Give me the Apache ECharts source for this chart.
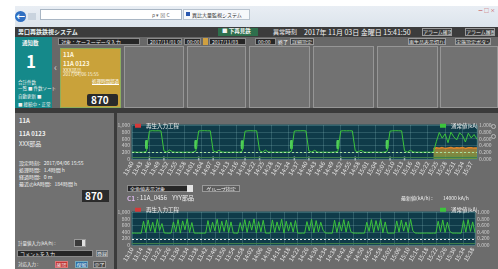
<!DOCTYPE html>
<html>
<head>
<meta charset="utf-8">
<script src="https://cdn.jsdelivr.net/npm/echarts@6/dist/echarts.min.js"></script>
<style>
  body { margin: 0; width: 498px; height: 269px; overflow: hidden; background: #fff; position: relative;
         font-family: "Noto Sans CJK JP", "Noto Sans", sans-serif; }
  .b { position: absolute; }
  .t { position: absolute; white-space: nowrap; line-height: 1; color: #f2f2f2; font-size: 6px; }
  .inp { position: absolute; background: #262626; border: 1px solid #8a8a8a; box-sizing: border-box;
         color: #eee; font-size: 5px; line-height: 6px; padding-left: 2px; white-space: nowrap; overflow: hidden; }
  .btn { position: absolute; background: #3a3a3a; border: 1px solid #9a9a9a; box-sizing: border-box;
         color: #f0f0f0; font-size: 5px; line-height: 6px; text-align: center; white-space: nowrap; overflow: hidden; }
  .card { position: absolute; top: 46px; height: 62px; background: #727272; border: 1px solid #969696; box-sizing: border-box; }
  #chart { position: absolute; left: 117px; top: 113px; width: 381px; height: 156px; }
</style>
</head>
<body>
<!-- browser chrome -->
<div class="b" style="left:15px;top:6px;width:483px;height:21px;background:linear-gradient(#e9eef4,#dce4ec);"></div>
<div class="b" style="left:15px;top:11px;width:11px;height:11px;border-radius:50%;background:#2f6fc2;"></div>
<div class="t" style="left:16px;top:12px;font-size:9px;color:#fff;font-weight:bold;">←</div>
<div class="b" style="left:28px;top:13px;width:8px;height:7px;background:#c9d3de;"></div>
<div class="b" style="left:40px;top:9px;width:142px;height:11px;background:#fff;border:1px solid #a9b6c4;box-sizing:border-box;"></div>
<div class="t" style="left:152px;top:12px;font-size:5px;color:#666;">ρ ▾ ⊠ C</div>
<div class="b" style="left:183px;top:9px;width:67px;height:11px;background:#f6f8fb;border:1px solid #b8c3cf;box-sizing:border-box;"></div>
<div class="b" style="left:186px;top:12px;width:4px;height:4px;background:#2a58b0;"></div>
<div class="t" style="left:192px;top:12px;font-size:5px;color:#333;">異比大量監視システム</div>
<div class="t" style="left:478px;top:7px;font-size:5px;color:#c04040;">ー □ ×</div>

<!-- app title bar -->
<div class="b" style="left:15px;top:27px;width:483px;height:10px;background:#3c3c3c;"></div>
<div class="t" style="left:18px;top:29px;font-size:6px;font-weight:bold;color:#e8f4f4;">男口再鉄鉄視システム</div>
<div class="b" style="left:218px;top:28px;width:40px;height:8px;background:#2e6f4c;"></div>
<div class="t" style="left:222px;top:29px;font-size:5.5px;font-weight:bold;">■ 下再見鉄</div>
<div class="t" style="left:273px;top:29px;font-size:6px;">異常時刻</div>
<div class="t" style="left:304px;top:28.5px;font-size:7px;">2017年 11月 03日 金曜日 15:41:50</div>
<div class="btn" style="left:422px;top:28px;width:30px;height:8px;">アラーム確認</div>
<div class="btn" style="left:465px;top:28px;width:30px;height:8px;">アラーム履歴</div>

<!-- toolbar + cards background -->
<div class="b" style="left:15px;top:37px;width:483px;height:71px;background:#686868;"></div>
<div class="inp" style="left:58px;top:38px;width:82px;height:7px;">対象：ケースーデータ入力</div>
<div class="inp" style="left:147px;top:38px;width:35px;height:7px;">2017/11/01 00:</div>
<div class="inp" style="left:184px;top:38px;width:17px;height:7px;">00:00</div>
<div class="b" style="left:203px;top:38px;width:5px;height:7px;background:#d0a040;"></div>
<div class="inp" style="left:209px;top:38px;width:37px;height:7px;">2017/11/03</div>
<div class="inp" style="left:255px;top:38px;width:21px;height:7px;">00:00</div>
<div class="t" style="left:278px;top:39px;font-size:5px;">終了</div>
<div class="btn" style="left:290px;top:38px;width:24px;height:7px;">詳細設定</div>
<div class="btn" style="left:408px;top:38px;width:38px;height:7px;">再生品表示切り替え</div>
<div class="btn" style="left:455px;top:38px;width:36px;height:7px;">実施設定ボタン</div>

<!-- notification panel -->
<div class="b" style="left:15px;top:37px;width:37px;height:71px;background:#15898a;"></div>
<div class="t" style="left:22px;top:41px;font-size:5.5px;font-weight:bold;">通知数</div>
<div class="t" style="left:26px;top:52px;font-size:17px;font-weight:bold;color:#fff;">1</div>
<div class="t" style="left:18px;top:80px;font-size:4.5px;">合計件数</div>
<div class="t" style="left:18px;top:86px;font-size:4.5px;">一覧 ■ 件数ソート</div>
<div class="t" style="left:18px;top:94px;font-size:4.5px;">自動更新 ■</div>
<div class="t" style="left:18px;top:102px;font-size:4.5px;">■ 接続中・正常</div>
<div class="t" style="left:54px;top:62px;font-size:10px;color:#d0d0d0;">‹</div>

<!-- cards -->
<div class="card" style="left:60px;width:61px;top:48px;height:60px;background:#c9a23a;border-color:#8fae5c;"></div>
<div class="t" style="left:63px;top:52px;font-size:6px;font-weight:bold;color:#fff8e0;">11A</div>
<div class="t" style="left:63px;top:61px;font-size:6px;font-weight:bold;color:#fff8e0;">11A 0123</div>
<div class="t" style="left:63px;top:67px;font-size:5px;color:#fff8e0;">XXX部品</div>
<div class="t" style="left:63px;top:72px;font-size:4.5px;color:#fff8e0;">2017/04/06 15:55</div>
<div class="t" style="left:92px;top:79px;font-size:4.5px;color:#fff;text-decoration:underline;">処理時間超過</div>
<div class="b" style="left:87px;top:94px;width:31px;height:12px;background:#2a2a2a;border-radius:2px;"></div>
<div class="t" style="left:91px;top:95px;font-size:10px;font-weight:bold;color:#fff;">870</div>
<div class="card" style="left:124px;width:60px;"></div>
<div class="card" style="left:187px;width:59px;"></div>
<div class="card" style="left:249px;width:61px;"></div>
<div class="card" style="left:313px;width:61px;"></div>
<div class="card" style="left:377px;width:61px;"></div>
<div class="card" style="left:440px;width:58px;"></div>
<div class="b" style="left:15px;top:108px;width:483px;height:5px;background:#3a3a3a;"></div>

<!-- left info panel -->
<div class="b" style="left:15px;top:113px;width:99px;height:156px;background:#717171;"></div>
<div class="b" style="left:114px;top:113px;width:3px;height:156px;background:#3b3b3b;"></div>
<div class="t" style="left:19px;top:118px;font-size:6px;font-weight:bold;">11A</div>
<div class="t" style="left:19px;top:131px;font-size:6px;font-weight:bold;">11A 0123</div>
<div class="t" style="left:19px;top:141px;font-size:6px;">XXX部品</div>
<div class="t" style="left:19px;top:160px;font-size:5px;">設定時刻:&nbsp;&nbsp;&nbsp;2017/04/06 15:55</div>
<div class="t" style="left:19px;top:167px;font-size:5px;">処理時間:&nbsp;&nbsp;&nbsp;1.4時間 h</div>
<div class="t" style="left:19px;top:174px;font-size:5px;">経過時間:&nbsp;&nbsp;&nbsp;0 m</div>
<div class="t" style="left:19px;top:181px;font-size:5px;">最近のkA時間:&nbsp;&nbsp;&nbsp;184時間 h</div>
<div class="b" style="left:82px;top:190px;width:27px;height:12px;background:#2b2b2b;"></div>
<div class="t" style="left:85px;top:191px;font-size:10px;font-weight:bold;color:#fff;">870</div>
<div class="t" style="left:18px;top:241px;font-size:4.5px;">計量値入力(kA/h) :</div>
<div class="b" style="left:74px;top:239px;width:12px;height:8px;background:#3a3a3a;border:1px solid #999;box-sizing:border-box;"></div>
<div class="b" style="left:82px;top:240px;width:3px;height:6px;background:#e0e0e0;"></div>
<div class="inp" style="left:17px;top:250px;width:76px;height:7px;">コメントを入力</div>
<div class="btn" style="left:96px;top:250px;width:12px;height:7px;background:#55606a;">登録</div>
<div class="t" style="left:18px;top:262px;font-size:4.5px;">対応入力 :</div>
<div class="btn" style="left:55px;top:261px;width:13px;height:7px;background:#c23434;border-color:#d77;">確認</div>
<div class="btn" style="left:75px;top:261px;width:13px;height:7px;background:#2c6fa8;border-color:#7ab;">保留</div>
<div class="btn" style="left:93px;top:261px;width:13px;height:7px;background:#4a4a4a;">完了</div>

<!-- chart area -->
<div id="chart"></div>
<div class="b" style="left:491px;top:124px;width:5px;height:5px;border-radius:50%;border:1px solid #bbb;box-sizing:border-box;"></div>
<div class="b" style="left:491px;top:134px;width:5px;height:5px;border-radius:50%;border:1px solid #bbb;box-sizing:border-box;"></div>
<div class="inp" style="left:127px;top:185px;width:66px;height:7px;">全角値表示対象</div>
<div class="b" style="left:187px;top:185px;width:6px;height:7px;background:#e4e4e4;"></div>
<div class="btn" style="left:202px;top:185px;width:38px;height:7px;background:#5c5c5c;">グループ指定</div>
<div class="t" style="left:127px;top:195px;font-size:6.5px;font-weight:bold;color:#dcb8ec;">C1</div>
<div class="t" style="left:137px;top:195px;font-size:6px;">: 11A_0456&nbsp;&nbsp;&nbsp;&nbsp;YYY部品</div>
<div class="t" style="left:401px;top:195px;font-size:5px;">最新値(kA/h) :</div>
<div class="t" style="left:443px;top:195px;font-size:5px;">14000 kA/h</div>

<script>
// top chart: one sample per minute
const TOP_VALUES = [200, 203, 198, 201, 199, 230,
  820, 832, 828, 830, 826,
  240, 205, 265, 210, 198, 202, 200, 197, 203, 199, 201, 235,
  825, 830, 833, 828, 830,
  235, 204, 258, 206, 199, 201, 197, 203, 200, 198, 228,
  818, 829, 831, 827, 830,
  245, 203, 262, 207, 200, 198, 202, 199, 201, 203, 197, 232,
  822, 830, 829, 832, 826,
  238, 205, 255, 204, 199, 202, 200, 197, 201, 203, 226,
  824, 831, 828, 830, 827,
  242, 206, 260, 203, 198, 201, 199, 203, 200, 197, 202, 230,
  820, 829, 832, 830, 828,
  240, 204, 257, 205, 199, 201, 198, 203, 200, 199, 202,
  520, 780, 610, 740, 480, 790, 650, 560, 770, 690, 500, 760, 620, 720, 580];
const TOP_SPIKES = [[5, 430], [22, 430], [38, 420], [55, 430], [71, 425], [88, 430]];
const TOP_EDGES = [[6, 15], [11, 15], [23, 15], [28, 15], [39, 15], [44, 15],
  [56, 15], [61, 15], [72, 15], [77, 15], [89, 15], [94, 15]];
const TOP_REGEN = [[104, 300], [105, 330], [106, 318], [107, 335], [108, 312], [109, 326],
  [110, 340], [111, 316], [112, 330], [113, 322], [114, 336], [115, 312], [116, 328],
  [117, 334], [118, 320], [119, 326]];
const TOP_REFERENCE = 185;
const TOP_FLOOR = 40;

// lower chart
const LOW_VALUES = [360, 362, 358, 361, 359,
  720, 380, 760, 420, 690, 370, 780, 440, 650, 365,
  360, 358, 362,
  700, 400, 770, 360, 730, 460, 790, 380, 680, 362,
  359, 361, 360, 358, 362,
  740, 390, 690, 430, 780, 370, 720, 410, 760, 380, 700, 364,
  360, 359,
  680, 420, 770, 380, 730, 450, 790, 370, 710, 400, 750, 361,
  360, 362,
  760, 380, 700, 440, 780, 360, 720, 420, 690, 390, 740, 360,
  359, 361, 358,
  710, 430, 780, 370, 740, 400, 690, 450, 363,
  360, 361, 359,
  750, 380, 700, 420, 770, 390, 720, 410, 362,
  360, 358, 361, 359, 360,
  690, 410, 770, 380, 740, 440, 790, 370, 700, 361,
  359, 362, 360,
  730, 390, 760, 420, 700, 380, 780, 430, 363,
  360, 358, 361, 359, 362, 360, 358, 361, 359,
  720, 400, 760, 380, 690, 420, 362,
  360, 361, 359, 360,
  740, 390, 770, 410, 700, 380];
const LOW_REFERENCE = 180;

const LEFT_AXIS = { min: 0, max: 1000, interval: 200 };
const RIGHT_AXIS = { min: 0, max: 1, interval: 0.2 };

function timeLabels(startMin, count) {
  const out = [];
  for (let i = 0; i < count; i++) {
    const m = startMin + i;
    out.push(String(Math.floor(m / 60) % 24).padStart(2, "0") + ":" + String(m % 60).padStart(2, "0"));
  }
  return out;
}
const TOP_TIMES = timeLabels(13 * 60 + 40, TOP_VALUES.length);
const LOW_TIMES = timeLabels(13 * 60 + 10, LOW_VALUES.length);

const GREEN = "#3cc43c";
const gridLine = { lineStyle: { color: "rgba(150,200,200,0.22)", width: 1 } };

function xAxisFor(gridIndex, data, labelEvery) {
  return {
    type: "category", gridIndex, data, boundaryGap: false,
    axisLine: { show: false }, axisTick: { show: false },
    axisLabel: {
      show: true, interval: 0, rotate: 60, hideOverlap: false,
      fontSize: 6, color: "#e6e6e6", margin: 3,
      formatter: (v, i) => (i % labelEvery === 0 ? v : "")
    },
    splitLine: { show: true, interval: 5, ...gridLine }
  };
}
function yAxesFor(gridIndex) {
  return [
    { type: "value", gridIndex, ...LEFT_AXIS, position: "left",
      axisLabel: { fontSize: 5, color: "#d0d0d0", margin: 2, formatter: v => v.toLocaleString("en-US") },
      axisLine: { show: false }, axisTick: { show: false }, splitLine: { show: true, ...gridLine } },
    { type: "value", gridIndex, ...RIGHT_AXIS, position: "right",
      axisLabel: { fontSize: 5, color: "#d0d0d0", margin: 2, formatter: v => v.toFixed(3) },
      axisLine: { show: false }, axisTick: { show: false }, splitLine: { show: false } }
  ];
}
function legendsAt(top) {
  const text = { fontSize: 5.5, color: "#eeeeee" };
  return [
    { left: 13, top, itemWidth: 6, itemHeight: 4, itemGap: 4, textStyle: text, selectedMode: false,
      data: [{ name: "再生入力工程", icon: "rect", itemStyle: { color: "#d33a3a" } }] },
    { left: 318, top, itemWidth: 6, itemHeight: 4, textStyle: text, selectedMode: false,
      data: [{ name: "通常値(kA)", icon: "rect", itemStyle: { color: GREEN } }] }
  ];
}
function refLines(ref, refColor, floor) {
  return {
    silent: true, symbol: "none", label: { show: false },
    data: [
      { yAxis: ref, lineStyle: { color: refColor, type: [2, 2], width: 1.2 } },
      { yAxis: floor, lineStyle: { color: "#3f7f4c", type: "solid", width: 1 } }
    ]
  };
}

const chart = echarts.init(document.getElementById("chart"));
chart.setOption({
  animation: false,
  backgroundColor: "#6c6c6c",
  textStyle: { fontFamily: "Noto Sans CJK JP" },
  grid: [
    { left: 15, width: 345, top: 12, height: 34, show: true, backgroundColor: "#0f3b49", borderColor: "#1f5560", borderWidth: 1,
      outerBoundsMode: "none" },
    { left: 15, width: 343, top: 99, height: 33, show: true, backgroundColor: "#0f3b49", borderColor: "#1f5560", borderWidth: 1,
      outerBoundsMode: "none" }
  ],
  legend: legendsAt(5).concat(legendsAt(89)),
  xAxis: [xAxisFor(0, TOP_TIMES, 3), xAxisFor(1, LOW_TIMES, 4)],
  yAxis: yAxesFor(0).concat(yAxesFor(1)),
  series: [
    {
      name: "再生入力工程", type: "line", xAxisIndex: 0, yAxisIndex: 0, data: TOP_REGEN,
      showSymbol: false, lineStyle: { color: "#e0862a", width: 1.5 },
      areaStyle: { color: new echarts.graphic.LinearGradient(0, 0, 0, 1, [
        { offset: 0, color: "#d9842c" }, { offset: 0.35, color: "#c4a23c" }, { offset: 1, color: "#8fb43e" }]) }
    },
    {
      name: "通常値(kA)", type: "line", xAxisIndex: 0, yAxisIndex: 0, data: TOP_VALUES,
      showSymbol: false, lineStyle: { color: GREEN, width: 1 }, itemStyle: { color: GREEN },
      markLine: refLines(TOP_REFERENCE, "#a8e2a0", TOP_FLOOR)
    },
    {
      name: "spike", type: "scatter", xAxisIndex: 0, yAxisIndex: 0, data: TOP_SPIKES,
      symbol: "roundRect", symbolSize: [3, 9], itemStyle: { color: "#62f062" }
    },
    {
      name: "edge", type: "scatter", xAxisIndex: 0, yAxisIndex: 0, data: TOP_EDGES,
      symbol: "rect", symbolSize: [1.5, 4], itemStyle: { color: "#b8c6c6" }
    },
    {
      name: "通常値(kA)", type: "line", xAxisIndex: 1, yAxisIndex: 2, data: LOW_VALUES,
      showSymbol: false, lineStyle: { color: GREEN, width: 1 }, itemStyle: { color: GREEN },
      markLine: refLines(LOW_REFERENCE, "#e8e8e8", TOP_FLOOR)
    }
  ]
});
</script>
</body>
</html>
